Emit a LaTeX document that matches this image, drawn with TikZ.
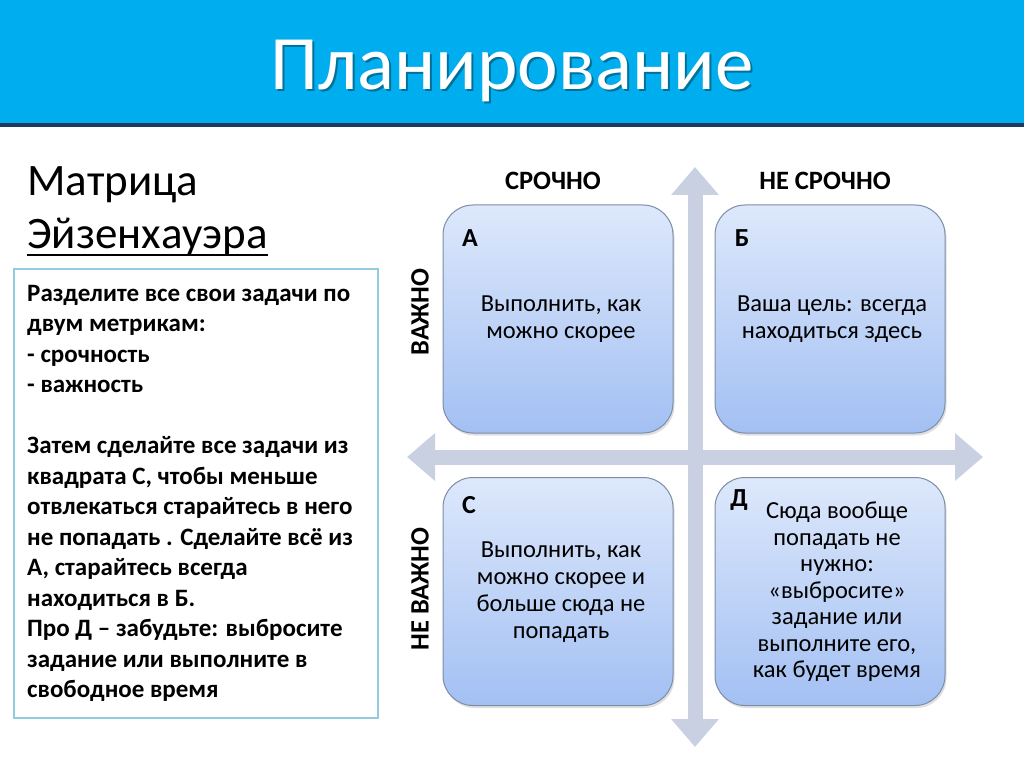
\documentclass[tikz,border=0pt]{standalone}
\usepackage{fontspec}
\setmainfont{Carlito}
\usetikzlibrary{arrows.meta,shadows}
\definecolor{hdr}{HTML}{00AEEF}
\definecolor{hdrline}{HTML}{1F3A5F}
\definecolor{lboxc}{HTML}{93CDDD}
\definecolor{arrowc}{HTML}{C8D0E2}
\definecolor{qtop}{HTML}{DDE8FB}
\definecolor{qbot}{HTML}{A3C0F3}
\definecolor{qborder}{HTML}{7D8DA8}
\tikzset{
  quad/.style={draw=qborder, line width=1pt, rounded corners=30pt,
    top color=qtop, bottom color=qbot, minimum width=230pt, minimum height=228pt,
    drop shadow={opacity=0.25, shadow xshift=1.5pt, shadow yshift=-2.5pt}},
  axis/.style={draw=arrowc, line width=15pt,
    {Triangle[width=46pt,length=28pt]}-{Triangle[width=46pt,length=28pt]}},
  qtext/.style={align=center, font=\fontsize{24.5}{27}\selectfont},
  qletter/.style={font=\fontsize{26}{28}\selectfont\bfseries},
  axlabel/.style={font=\fontsize{26.5}{28}\selectfont\bfseries},
}
\begin{document}
\begin{tikzpicture}[x=1pt,y=-1pt]
\useasboundingbox (0,0) rectangle (1024,767);
\fill[white] (0,0) rectangle (1024,767);
\fill[hdr] (0,0) rectangle (1024,124);
\fill[hdrline] (0,123) rectangle (1024,127);
\node[text=black, opacity=0.35, font=\fontsize{77}{80}\selectfont] (titleshadow) at (514,73) {Планирование};
\node[text=white, font=\fontsize{77}{80}\selectfont] (title) at (512,71) {Планирование};

% left heading
\node[anchor=base west, inner sep=0pt, font=\fontsize{45}{50}\selectfont] (m1) at (27,196) {Матрица};
\node[anchor=base west, inner sep=0pt, font=\fontsize{45}{50}\selectfont] (m2) at (27,248) {Эйзенхауэра};
\draw[line width=2.5pt] ([yshift=-7pt]m2.base west) -- ([yshift=-7pt]m2.base east);

% left box
\node[draw=lboxc, line width=1.5pt, minimum width=364pt, minimum height=449pt, anchor=north west, inner sep=0pt] (lb) at (13,268) {};
\node[anchor=north west, align=left, inner sep=0pt, font=\fontsize{25}{30.5}\selectfont\bfseries] (lt) at (27,285) {Разделите все свои задачи по\\двум метрикам:\\- срочность\\- важность\\[30.5pt]Затем сделайте все задачи из\\квадрата С, чтобы меньше\\отвлекаться старайтесь в него\\не попадать . Сделайте всё из\\А, старайтесь всегда\\находиться в Б.\\Про Д – забудьте: выбросите\\задание или выполните в\\свободное время};

% axes
\coordinate (vt) at (695,167);
\coordinate (vb) at (695,747);
\coordinate (hl) at (407,457);
\coordinate (hr) at (983,457);
\draw[axis] (vb) -- (vt);
\draw[axis] (hl) -- (hr);

% quadrants
\node[quad] (A) at (558,319) {};
\node[quad] (B) at (830,319) {};
\node[quad] (C) at (558,591.5) {};
\node[quad] (D) at (830,591.5) {};

\node[qletter] (la) at (470,238) {А};
\node[qletter] (lbb) at (742,238) {Б};
\node[qletter] (lc) at (469,505) {С};
\node[qletter] (ld) at (739,500) {Д};

\node[qtext] (ta) at (561,319) {Выполнить, как\\можно скорее};
\node[qtext] (tb) at (832,319) {Ваша цель: всегда\\находиться здесь};
\node[qtext] (tc) at (561,592) {Выполнить, как\\можно скорее и\\больше сюда не\\попадать};
\node[qtext, font=\fontsize{24.5}{26.5}\selectfont] (td) at (837,592) {Сюда вообще\\попадать не\\нужно:\\«выбросите»\\задание или\\выполните его,\\как будет время};

% axis labels
\node[axlabel] (sr) at (553,181) {СРОЧНО};
\node[axlabel] (nsr) at (825,181) {НЕ СРОЧНО};
\node[axlabel, rotate=90] (vz) at (420,312) {ВАЖНО};
\node[axlabel, rotate=90] (nvz) at (420,589) {НЕ ВАЖНО};
\end{tikzpicture}
\end{document}
